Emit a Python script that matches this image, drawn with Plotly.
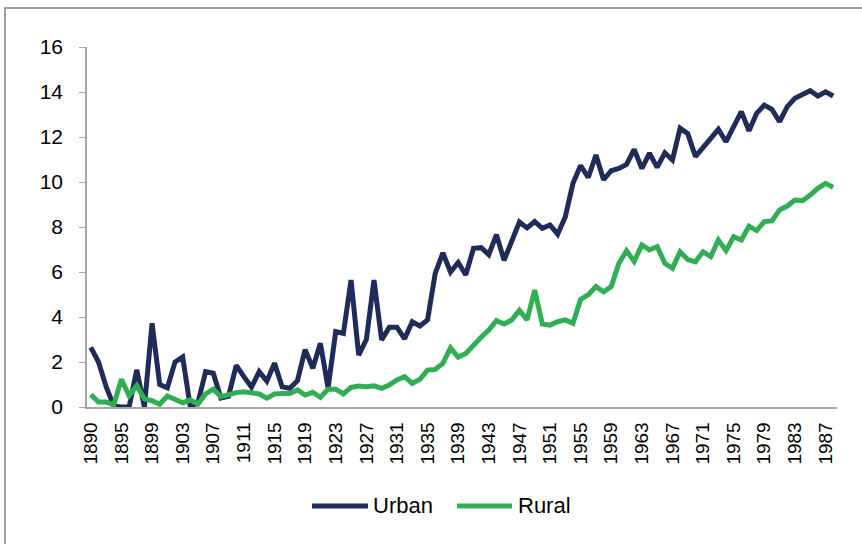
import plotly.graph_objects as go

years = [1890] + list(range(1892, 1989))
urban = [2.65, 2.0, 0.9, 0.05, 0.0, 0.0, 1.65, 0.0, 3.72, 1.0,
         0.85, 2.0, 2.22, 0.0, 0.2, 1.57, 1.5, 0.4, 0.48, 1.85,
         1.35, 0.88, 1.57, 1.15, 1.95, 0.9, 0.83, 1.17, 2.55, 1.72,
         2.83, 0.85, 3.35, 3.27, 5.64, 2.31, 3.0, 5.64, 2.98, 3.54,
         3.54, 3.03, 3.79, 3.6, 3.87, 5.94, 6.85, 6.0, 6.42, 5.87,
         7.05, 7.08, 6.77, 7.66, 6.52, 7.41, 8.22, 7.96, 8.24, 7.94,
         8.09, 7.68, 8.46, 9.94, 10.73, 10.2, 11.2, 10.1, 10.5, 10.6,
         10.78, 11.45, 10.6, 11.28, 10.65, 11.3, 10.98, 12.39, 12.15, 11.13,
         11.54, 11.98, 12.34, 11.79, 12.46, 13.13, 12.28, 13.05, 13.42, 13.23,
         12.68, 13.35, 13.72, 13.87, 14.06, 13.82, 14.01, 13.82]
rural = [0.55, 0.22, 0.22, 0.1, 1.23, 0.5, 0.95, 0.36, 0.28, 0.12,
         0.49, 0.31, 0.19, 0.31, 0.13, 0.58, 0.79, 0.46, 0.56, 0.64,
         0.68, 0.61, 0.58, 0.39, 0.58, 0.6, 0.6, 0.76, 0.53, 0.65,
         0.43, 0.79, 0.79, 0.58, 0.87, 0.93, 0.9, 0.94, 0.83, 0.98,
         1.2, 1.35, 1.05, 1.23, 1.64, 1.67, 1.94, 2.63, 2.22, 2.38,
         2.76, 3.1, 3.42, 3.84, 3.69, 3.87, 4.3, 3.87, 5.2, 3.69,
         3.64, 3.79, 3.87, 3.72, 4.78, 4.99, 5.35, 5.12, 5.35, 6.39,
         6.94, 6.47, 7.2, 6.98, 7.13, 6.39, 6.16, 6.9, 6.55, 6.45,
         6.9, 6.68, 7.42, 6.95, 7.57, 7.42, 8.04, 7.84, 8.24, 8.27,
         8.76, 8.93, 9.2, 9.17, 9.42, 9.72, 9.94, 9.76]
tick_labels = [str(y) for y in years[::4]]
series_names = ["Urban", "Rural"]
series_colors = ["#1F2B58", "#31AE54"]

cats = [str(y) for y in years]
FONT = "Liberation Sans, Arial, sans-serif"

L, T, W, H = 87, 47, 750, 360


def px(x):
    return (x - L) / W


def py(y):
    return (T + H - y) / H


fig = go.Figure()
for name, vals, col in zip(series_names, [urban, rural], series_colors):
    fig.add_trace(go.Scatter(x=cats, y=vals, mode="lines", name=name,
                             line=dict(color=col, width=5), showlegend=False))

# legend drawn manually to match the reference's long line samples
shapes = [dict(type="rect", xref="paper", yref="paper",
               x0=px(5), x1=px(880), y0=py(580), y1=py(8),
               line=dict(color="#A0A0A0", width=2), fillcolor="rgba(0,0,0,0)", layer="below")]
annotations = []
legend_items = [(312, 368, 371, "Urban"), (457, 512, 516, "Rural")]
for (lx0, lx1, tx, name), col in zip(legend_items, series_colors):
    shapes.append(dict(type="line", xref="paper", yref="paper",
                       x0=px(lx0), x1=px(lx1), y0=py(506), y1=py(506),
                       line=dict(color=col, width=5)))
    annotations.append(dict(text=name, xref="paper", yref="paper", x=px(tx), y=py(506),
                            xanchor="left", yanchor="middle", showarrow=False,
                            font=dict(size=22, color="#000000")))

fig.update_layout(
    width=862, height=544,
    margin=dict(l=L, r=862 - L - W, t=T, b=544 - T - H),
    paper_bgcolor="white", plot_bgcolor="white",
    font=dict(family=FONT, size=20, color="#000000"),
    showlegend=False,
    xaxis=dict(type="category", tickmode="array", tickvals=tick_labels, ticktext=tick_labels,
               tickangle=-90, showgrid=False, showline=True, linecolor="#A6A6A6", linewidth=1.5,
               ticks="", ticklabelstandoff=6, range=[-0.5, len(years) - 0.5],
               tickfont=dict(size=19), automargin=False),
    yaxis=dict(range=[0, 16], dtick=2, showgrid=False, showline=True, linecolor="#A6A6A6",
               linewidth=1.5, ticks="outside", ticklen=6, tickcolor="#A6A6A6",
               ticklabelstandoff=12, zeroline=False, tickfont=dict(size=21), automargin=False),
    shapes=shapes,
    annotations=annotations,
)

fig.write_html("out.html", config={"displayModeBar": False},
               post_script="document.body.style.margin='0';document.body.style.padding='0';")
